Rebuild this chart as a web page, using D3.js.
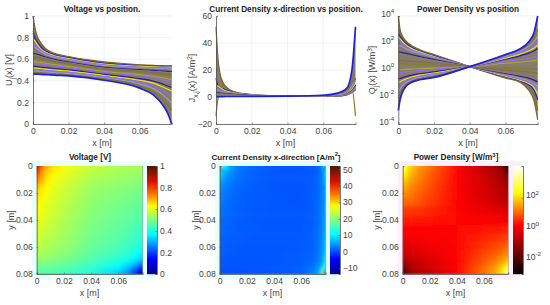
<!DOCTYPE html>
<html>
<head>
<meta charset="utf-8">
<script src="https://cdn.jsdelivr.net/npm/d3@7"></script>
<style>
html, body { margin: 0; padding: 0; background: #fff; }
text { font-family: "Liberation Sans", Arial, sans-serif; }
</style>
</head>
<body>
<div id="chart"></div>
<script>
// positions along the plate, one value per column of the tables below
var xPositions = [0, .001, .002, .004, .007, .012, .02, .04, .06, .068, .073, .076, .078];
// y position of each curve (row), used by the maps in the bottom row
var yPositions = [0, .002, .004, .006, .009, .012, .016, .021, .026, .033, .04, .047, .054, .059, .064, .067, .07, .072, .074, .076, .078];

var curveColors = ['#8a5a2b', '#7a7a1e', '#1f1fe0', '#e6e619', '#9a66ff', '#9a9ad0', '#857f70', '#2a1f9c', '#857f70', '#8a6a4a', '#7f7f30',
    '#857f70', '#a8a830', '#9a66ff', '#857f70', '#2a1f9c', '#e6e619', '#9a66ff', '#9a9ad0', '#7a7a1e', '#1f1fe0'];

var voltage = [
    [1, .90, .83, .76, .70, .655, .625, .575, .548, .542, .54, .54, .54],
    [.86, .82, .78, .73, .685, .648, .62, .568, .545, .54, .538, .538, .538],
    [.84, .80, .77, .72, .675, .64, .612, .562, .54, .535, .533, .532, .532],
    [.79, .77, .745, .70, .665, .632, .605, .555, .535, .53, .527, .526, .526],
    [.75, .735, .72, .69, .655, .625, .598, .548, .527, .522, .52, .518, .518],
    [.72, .71, .70, .675, .645, .617, .59, .54, .52, .514, .51, .508, .508],
    [.67, .668, .662, .65, .63, .607, .582, .532, .512, .505, .50, .498, .496],
    [.655, .652, .648, .638, .62, .598, .574, .525, .503, .496, .49, .487, .485],
    [.64, .637, .634, .625, .61, .59, .566, .517, .495, .486, .48, .476, .473],
    [.625, .623, .62, .612, .60, .58, .558, .51, .486, .476, .468, .463, .46],
    [.61, .608, .605, .598, .587, .57, .55, .502, .477, .465, .455, .45, .445],
    [.595, .593, .59, .585, .575, .56, .541, .494, .467, .454, .442, .435, .43],
    [.58, .578, .576, .57, .562, .55, .532, .486, .457, .442, .427, .418, .41],
    [.565, .563, .56, .556, .55, .538, .523, .477, .446, .428, .41, .398, .39],
    [.55, .548, .546, .542, .536, .526, .513, .468, .434, .413, .392, .376, .365],
    [.535, .533, .531, .528, .522, .514, .502, .459, .42, .396, .37, .35, .34],
    [.52, .518, .517, .514, .508, .50, .49, .449, .405, .376, .343, .32, .305],
    [.505, .504, .503, .50, .495, .488, .478, .438, .388, .352, .31, .28, .26],
    [.49, .49, .489, .486, .482, .476, .467, .428, .37, .325, .27, .225, .19],
    [.475, .475, .474, .472, .469, .463, .455, .418, .352, .295, .225, .17, .13],
    [.462, .462, .461, .46, .457, .452, .445, .405, .332, .265, .175, .09, 0]
];

var currentDensity = [
    [52, 30, 19, 10.5, 6, 3.2, 1.8, .7, .6, .8, 1.6, 5, 14],
    [-14, -2, 3, 9, 5.6, 3, 1.7, .7, .58, .75, 1.5, 6, -14],
    [14, 8.5, 7, 6, 4.5, 2.8, 1.6, .7, .58, .75, 1.5, 4, 9],
    [9, 8, 7.2, 5.4, 4, 2.6, 1.5, .7, .57, .8, 1.6, 4, 8],
    [7, 6.2, 5.4, 4.4, 3.4, 2.3, 1.4, .7, .57, .85, 1.7, 3.6, 7],
    [5.6, 5, 4.4, 3.7, 3, 2.1, 1.3, .7, .57, .9, 1.8, 4, 6.4],
    [4.4, 4, 3.6, 3.1, 2.6, 1.9, 1.2, .69, .58, .9, 1.7, 3.4, 5.2],
    [3.6, 3.3, 3, 2.7, 2.3, 1.7, 1.1, .68, .6, .95, 1.8, 3.8, 6],
    [3, 2.8, 2.6, 2.3, 2, 1.5, 1, .67, .6, 1, 1.9, 3.6, 5.4],
    [2.4, 2.3, 2.2, 2, 1.7, 1.3, .95, .66, .65, 1.05, 2, 3.8, 5.8],
    [2, 1.9, 1.8, 1.7, 1.5, 1.2, .9, .65, .7, 1.1, 2.1, 4, 6],
    [1.7, 1.6, 1.55, 1.45, 1.3, 1.05, .85, .65, .75, 1.2, 2.2, 4.2, 6.4],
    [1.4, 1.35, 1.3, 1.25, 1.1, .95, .8, .65, .8, 1.3, 2.3, 4.4, 7],
    [1.2, 1.15, 1.1, 1.05, .95, .85, .75, .65, .85, 1.4, 2.5, 4.8, 7.5],
    [1, .98, .95, .9, .85, .75, .7, .65, .9, 1.5, 2.7, 5, 8],
    [.85, .82, .8, .78, .73, .68, .65, .65, .95, 1.6, 2.9, 5.5, 9],
    [.7, .68, .67, .65, .63, .6, .6, .65, 1, 1.7, 3.2, 6, 10],
    [.6, .58, .57, .56, .55, .54, .55, .65, 1.05, 1.9, 3.5, 7, 12],
    [.5, .49, .48, .48, .47, .47, .5, .65, 1.1, 2.1, 4, 8, 14],
    [.42, .42, .41, .41, .41, .43, .46, .63, 1.2, 2.4, 4.6, 10, 14],
    [.35, .35, .35, .35, .36, .38, .42, .6, 1.3, 2.9, 6.2, 20, 52]
];

var powerExponent = [
    [4, 3, 2.6, 2.2, 1.85, 1.5, 1.15, .25, -.6, -.9, -1.5, -2.3, -3.7],
    [3, 2.7, 2.45, 2.1, 1.78, 1.45, 1.1, .25, -.55, -.85, -1.2, -1.8, -3],
    [2.7, 2.5, 2.3, 2, 1.7, 1.4, 1.05, .25, -.5, -.8, -1.1, -1.5, -2.2],
    [2.4, 2.3, 2.15, 1.9, 1.62, 1.34, 1, .25, -.45, -.75, -1, -1.3, -1.8],
    [2.1, 2.05, 1.95, 1.75, 1.52, 1.27, .95, .25, -.4, -.68, -.9, -1.15, -1.5],
    [1.85, 1.8, 1.75, 1.6, 1.42, 1.2, .9, .25, -.35, -.6, -.8, -1, -1.25],
    [1.6, 1.58, 1.55, 1.45, 1.3, 1.1, .84, .25, -.3, -.52, -.7, -.87, -1.05],
    [1.35, 1.33, 1.3, 1.25, 1.15, 1, .78, .25, -.25, -.45, -.6, -.75, -.88],
    [1.1, 1.1, 1.08, 1.05, 1, .88, .7, .25, -.2, -.37, -.5, -.62, -.7],
    [.7, .7, .69, .67, .64, .6, .52, .25, -.02, -.1, -.15, -.2, -.25],
    [.45, .45, .45, .44, .42, .4, .36, .25, .14, .1, .08, .06, .05],
    [.2, .2, .2, .2, .2, .2, .2, .25, .35, .38, .42, .46, .5],
    [0, 0, .02, .04, .07, .1, .14, .25, .5, .58, .65, .7, .75],
    [-.2, -.2, -.18, -.14, -.1, -.04, .05, .25, .62, .76, .86, .96, 1.05],
    [-.4, -.4, -.37, -.32, -.26, -.17, -.05, .25, .72, .92, 1.06, 1.2, 1.32],
    [-.65, -.63, -.58, -.5, -.4, -.28, -.14, .25, .8, 1.05, 1.25, 1.42, 1.6],
    [-.9, -.88, -.8, -.68, -.54, -.38, -.22, .25, .88, 1.18, 1.42, 1.63, 1.85],
    [-1.2, -1.12, -1, -.83, -.65, -.47, -.3, .25, .95, 1.3, 1.58, 1.86, 2.15],
    [-1.6, -1.4, -1.22, -.97, -.76, -.56, -.38, .25, 1.02, 1.4, 1.75, 2.1, 2.5],
    [-2.1, -1.75, -1.47, -1.1, -.85, -.63, -.46, .25, 1.08, 1.48, 1.92, 2.4, 3],
    [-3, -2.2, -1.75, -1.25, -.95, -.72, -.55, .25, 1.15, 1.55, 2.1, 2.8, 4]
];

var xTicks = [0, .02, .04, .06];
var mapYTicks = [0, .02, .04, .06, .08];
var voltageTicks = [0, .2, .4, .6, .8, 1];
var currentTicks = [-20, 0, 20, 40, 60];
var powerTicks = [1e-4, 1e-2, 1, 1e2, 1e4];
var currentBarTicks = [-10, 0, 10, 20, 30, 40, 50];
var powerBarTicks = [1e-2, 1, 1e2];

var jetStops = [0, .14, .37, .5, .63, .73, .85, 1];
var jetColors = ['#00008f', '#0000ff', '#00ffff', '#7fff7f', '#ffff00', '#ff8000', '#e01000', '#4a1a00'];
var hotStops = [0, .45, .75, 1];
var hotColors = ['#000000', '#ff0000', '#ffff00', '#ffffff'];

var axisColor = '#555', textColor = '#444', bandColor = '#857b66';
var svg = d3.select('#chart').append('svg').attr('width', 550).attr('height', 305);
var defs = svg.append('defs');
defs.append('filter').attr('id', 'soften')
    .attr('filterUnits', 'userSpaceOnUse')
    .attr('x', 0).attr('y', 150).attr('width', 550).attr('height', 155)
    .append('feGaussianBlur').attr('stdDeviation', '0.8 2.2');

// text with sub and superscripts, parts are [string, 'sub' | 'sup' | undefined]
function richText(sel, parts) {
    var shift = 0;
    parts.forEach(function (p) {
        var next = p[1] === 'sub' ? 2.5 : p[1] === 'sup' ? -3.5 : 0;
        sel.append('tspan')
            .attr('dy', next - shift)
            .style('font-size', p[1] ? '0.72em' : null)
            .text(p[0]);
        shift = next;
    });
}

function label(x, y, parts, size, opts) {
    opts = opts || {};
    var t = svg.append('text')
        .attr('text-anchor', 'middle')
        .attr('fill', opts.bold ? '#222' : textColor)
        .attr('font-weight', opts.bold ? 'bold' : null)
        .style('font-size', size + 'px')
        .attr('transform', 'translate(' + x + ',' + y + ')' + (opts.rotate ? ' rotate(-90)' : ''));
    richText(t, parts);
}

function styleAxis(g) {
    g.selectAll('path').attr('stroke', axisColor).attr('stroke-width', 0.8);
    g.selectAll('line').attr('stroke', axisColor).attr('stroke-width', 0.6);
    g.selectAll('text').attr('fill', textColor).style('font-size', '8.6px')
        .style('font-family', '"Liberation Sans", Arial, sans-serif');
}

function zeroFormat(d) {
    return d === 0 ? '0' : d3.format('.2~f')(d);
}

// log tick labels are written as 10 with a raised exponent
function powerTickLabels(g) {
    g.selectAll('.tick text').each(function (d) {
        var t = d3.select(this).text('');
        richText(t, [['10'], [String(Math.round(Math.log10(d))), 'sup']]);
    });
}

function drawCurves(opts) {
    var x = d3.scaleLinear().domain([0, .078]).range(opts.xRange);
    var y = opts.y;

    // light grid
    svg.append('g').selectAll('line').data(xTicks.slice(1)).enter().append('line')
        .attr('x1', x).attr('x2', x).attr('y1', 16).attr('y2', 124)
        .attr('stroke', '#ececec').attr('stroke-width', 0.7);
    svg.append('g').selectAll('line').data(opts.ticks).enter().append('line')
        .attr('x1', opts.xRange[0]).attr('x2', opts.xRange[1])
        .attr('y1', y).attr('y2', y)
        .attr('stroke', '#ececec').attr('stroke-width', 0.7);

    // the curves are so dense they merge, so the band between the outer two gets a base tone
    var first = opts.rows[0], last = opts.rows[opts.rows.length - 1];
    var band = d3.area()
        .x(function (d) { return x(d); })
        .y0(function (d, i) { return y(first[i]); })
        .y1(function (d, i) { return y(last[i]); })
        .curve(d3.curveMonotoneX);
    svg.append('path').attr('d', band(xPositions)).attr('fill', bandColor);

    var line = d3.line()
        .x(function (d, i) { return x(xPositions[i]); })
        .y(function (d) { return y(d); })
        .curve(d3.curveMonotoneX);

    svg.append('g').selectAll('path').data(opts.rows).enter().append('path')
        .attr('d', line)
        .attr('fill', 'none')
        .attr('stroke', function (d, i) { return curveColors[i]; })
        .attr('stroke-width', function (d, i) { return i === opts.rows.length - 1 ? 1.7 : 1.2; });

    var gx = svg.append('g').attr('transform', 'translate(0,124)')
        .call(d3.axisBottom(x).tickValues(xTicks).tickFormat(zeroFormat).tickSize(-1.5).tickPadding(4));
    styleAxis(gx);
    var gy = svg.append('g').attr('transform', 'translate(' + opts.xRange[0] + ',0)')
        .call(d3.axisLeft(y).tickValues(opts.ticks).tickFormat(zeroFormat).tickSize(-1.5).tickPadding(4));
    styleAxis(gy);
    if (opts.log) powerTickLabels(gy);
}

function drawMap(opts) {
    var x = d3.scaleLinear().domain([0, .078]).range(opts.xRange);
    var y = d3.scaleLinear().domain([0, .08]).range([166, 274]);

    // pale halo round the map as in the source image
    svg.append('rect')
        .attr('x', opts.xRange[0] - 5).attr('y', 161)
        .attr('width', opts.barX + 12 - opts.xRange[0]).attr('height', 118)
        .attr('fill', opts.halo);

    var clipId = 'clip' + opts.id;
    defs.append('clipPath').attr('id', clipId).append('rect')
        .attr('x', opts.xRange[0]).attr('y', 166)
        .attr('width', opts.xRange[1] - opts.xRange[0]).attr('height', 108);

    var gradients = defs.selectAll('.g' + opts.id).data(opts.rows).enter().append('linearGradient')
        .attr('class', 'g' + opts.id)
        .attr('id', function (d, i) { return opts.id + 'row' + i; })
        .attr('gradientUnits', 'userSpaceOnUse')
        .attr('x1', opts.xRange[0]).attr('x2', opts.xRange[1])
        .attr('y1', 0).attr('y2', 0);
    gradients.selectAll('stop').data(function (d) { return d; }).enter().append('stop')
        .attr('offset', function (d, i) { return xPositions[i] / .078; })
        .attr('stop-color', function (d) { return opts.color(d); });

    // row edges sit half way between neighbouring rows
    var edges = yPositions.map(function (v, i) {
        return i === 0 ? y(0) - 8 : (y(v) + y(yPositions[i - 1])) / 2;
    });
    edges.push(y(.08) + 8);

    svg.append('g').attr('clip-path', 'url(#' + clipId + ')')
        .append('g').attr('filter', 'url(#soften)')
        .selectAll('rect').data(opts.rows).enter().append('rect')
        .attr('x', opts.xRange[0] - 8)
        .attr('width', opts.xRange[1] - opts.xRange[0] + 16)
        .attr('y', function (d, i) { return edges[i]; })
        .attr('height', function (d, i) { return edges[i + 1] - edges[i] + 0.5; })
        .attr('fill', function (d, i) { return 'url(#' + opts.id + 'row' + i + ')'; });

    svg.append('path')
        .attr('d', 'M' + opts.xRange[1] + ',166V274H' + opts.xRange[0])
        .attr('fill', 'none').attr('stroke', '#888').attr('stroke-width', 0.6);

    var gx = svg.append('g').attr('transform', 'translate(0,274)')
        .call(d3.axisBottom(x).tickValues(xTicks).tickFormat(zeroFormat).tickSize(-1.5).tickPadding(4));
    styleAxis(gx);
    var gy = svg.append('g').attr('transform', 'translate(' + opts.xRange[0] + ',0)')
        .call(d3.axisLeft(y).tickValues(mapYTicks).tickFormat(zeroFormat).tickSize(-1.5).tickPadding(4));
    styleAxis(gy);

    // colorbar
    var bar = opts.barScale.copy().range([274, 166]);
    svg.append('g').selectAll('rect').data(d3.range(166, 274)).enter().append('rect')
        .attr('x', opts.barX).attr('width', 10)
        .attr('y', function (d) { return d; }).attr('height', 1.2)
        .attr('fill', function (d) { return opts.color(bar.invert(d + 0.5)); });
    var gb = svg.append('g').attr('transform', 'translate(' + (opts.barX + 10) + ',0)')
        .call(d3.axisRight(bar).tickValues(opts.barTicks).tickFormat(zeroFormat).tickSize(-1.5).tickPadding(3));
    styleAxis(gb);
    if (opts.log) powerTickLabels(gb);
}

var voltageColor = d3.scaleLinear().domain(jetStops).range(jetColors);
var currentNorm = d3.scaleLinear().domain([-13.6, 52]).range([0, 1]);
var currentColor = function (v) { return voltageColor(currentNorm(v)); };
var hotScale = d3.scaleLinear().domain(hotStops).range(hotColors);
var powerNorm = d3.scaleLog().domain([Math.pow(10, -2.95), Math.pow(10, 4.06)]).range([0, 1]);
var powerColor = function (v) { return hotScale(powerNorm(v)); };
var powerRows = powerExponent.map(function (r) {
    return r.map(function (e) { return Math.pow(10, e); });
});

drawCurves({
    xRange: [33, 171.7], rows: voltage, ticks: voltageTicks,
    y: d3.scaleLinear().domain([0, 1]).range([124, 16])
});
drawCurves({
    xRange: [216, 355.5], rows: currentDensity, ticks: currentTicks,
    y: d3.scaleLinear().domain([-20, 60]).range([124, 16])
});
drawCurves({
    xRange: [398.3, 537.7], rows: powerRows, ticks: powerTicks, log: true,
    y: d3.scaleLog().domain([1e-4, 1e4]).range([124, 16])
});

drawMap({
    id: 'v', xRange: [36.7, 142.7], rows: voltage, color: voltageColor, halo: '#eaffff',
    barX: 147, barScale: d3.scaleLinear().domain([0, 1]), barTicks: voltageTicks
});
drawMap({
    id: 'j', xRange: [219.7, 325.7], rows: currentDensity, color: currentColor, halo: '#e4ffff',
    barX: 330, barScale: d3.scaleLinear().domain([-13.6, 52]), barTicks: currentBarTicks
});
drawMap({
    id: 'q', xRange: [402.7, 508.3], rows: powerRows, color: powerColor, halo: '#fdeefd', log: true,
    barX: 513, barScale: d3.scaleLog().domain([Math.pow(10, -2.95), Math.pow(10, 4.06)]), barTicks: powerBarTicks
});

// titles
label(102, 11.5, [['Voltage vs position.']], 8.2, { bold: true });
label(286, 11.5, [['Current Density x-direction vs position.']], 8.2, { bold: true });
label(468, 11.5, [['Power Density vs position']], 8.2, { bold: true });
label(90, 160, [['Voltage [V]']], 8.2, { bold: true });
label(276, 159.5, [['Current Density x-direction [A/m'], ['2', 'sup'], [']']], 8, { bold: true });
label(456, 160, [['Power Density [W/m'], ['3', 'sup'], [']']], 8.2, { bold: true });

// axis labels
[102, 285.5, 468].forEach(function (cx) {
    label(cx, 145.5, [['x [m]']], 9);
});
[89.5, 272.5, 455.5].forEach(function (cx) {
    label(cx, 296, [['x [m]']], 9);
});
[14, 199, 380].forEach(function (cx) {
    label(cx, 220, [['y [m]']], 9, { rotate: true });
});
label(12, 70, [['U'], ['j', 'sub'], ['(x) [V]']], 9, { rotate: true });
label(195, 78, [['J'], ['x,j', 'sub'], ['(x) [A/m'], ['2', 'sup'], [']']], 9, { rotate: true });
label(375, 70, [['Q'], ['j', 'sub'], ['(x) [W/m'], ['3', 'sup'], [']']], 9, { rotate: true });
</script>
</body>
</html>
